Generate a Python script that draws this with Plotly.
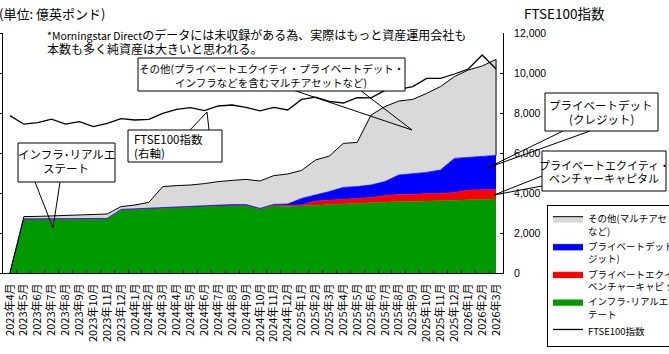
import plotly.graph_objects as go

months = ["2023年4月", "2023年5月", "2023年6月", "2023年7月", "2023年8月", "2023年9月",
          "2023年10月", "2023年11月", "2023年12月", "2024年1月", "2024年2月", "2024年3月",
          "2024年4月", "2024年5月", "2024年6月", "2024年7月", "2024年8月", "2024年9月",
          "2024年10月", "2024年11月", "2024年12月", "2025年1月", "2025年2月", "2025年3月",
          "2025年4月", "2025年5月", "2025年6月", "2025年7月", "2025年8月", "2025年9月",
          "2025年10月", "2025年11月", "2025年12月", "2026年1月", "2026年2月", "2026年3月"]

# 億英ポンド (left axis)
infra = [0, 268, 268, 269, 269, 270, 270, 270, 315, 318, 323, 327, 328, 332, 333, 335, 338, 338,
         320, 335, 332, 335, 340, 343, 347, 347, 350, 353, 357, 358, 360, 362, 363, 368, 370, 370]
pe = [0, 1, 1, 1, 1, 1, 1, 1, 1, 1, 1, 1, 1, 1, 1, 1, 1, 1,
      2, 5, 7, 6, 20, 22, 21, 25, 27, 34, 35, 34, 38, 36, 40, 47, 48, 48]
pdebt = [0, 2, 2, 2, 2, 2, 2, 2, 2, 2, 2, 2, 2, 2, 2, 3, 3, 3,
         1, 3, 6, 32, 30, 42, 60, 60, 63, 70, 98, 106, 105, 117, 170, 163, 164, 170]
other = [0, 11, 12, 13, 15, 17, 19, 22, 14, 19, 27, 102, 106, 105, 111, 118, 121, 126,
         137, 144, 150, 140, 175, 178, 220, 221, 350, 375, 370, 370, 395, 417, 409, 437, 453, 480]
# FTSE100 index (right axis)
ftse = [7870, 7440, 7520, 7690, 7440, 7570, 7320, 7480, 7720, 7650, 7680, 7980, 8180, 8270,
        8120, 8350, 8400, 8280, 8110, 8280, 8150, 8680, 8790, 8580, 8500, 8770, 8760, 9130,
        9180, 9320, 9730, 9730, 9950, 10200, 10900, 10200]

JP = "Noto Sans CJK JP"
L, R, T, B = 3, 503, 33, 273
FW, FH = 669, 354


def px(x):
    return (x - L) / (R - L)


def py(y):
    return (B - y) / (B - T)


fig = go.Figure()
fig.add_trace(go.Scatter(x=months, y=infra, stackgroup="s", mode="lines",
                         line=dict(color="#009900", width=0.5), fillcolor="#009900",
                         name="インフラ･リアルエス<br>テート", legendrank=4))
fig.add_trace(go.Scatter(x=months, y=pe, stackgroup="s", mode="lines",
                         line=dict(color="#ff0000", width=0.5), fillcolor="#ff0000",
                         name="プライベートエクイティ･<br>ベンチャーキャピ タル", legendrank=3))
fig.add_trace(go.Scatter(x=months, y=pdebt, stackgroup="s", mode="lines",
                         line=dict(color="#0000ff", width=0.8), fillcolor="#0000ff",
                         name="プライベートデット(クレ<br>ジット)", legendrank=2))
fig.add_trace(go.Scatter(x=months, y=other, stackgroup="s", mode="lines",
                         line=dict(color="black", width=1), fillcolor="#d9d9d9",
                         name="その他(マルチアセット<br>など)", legendrank=1))
below_last = infra[-1] + pe[-1] + pdebt[-1]
total_last = below_last + other[-1]
fig.add_trace(go.Scatter(x=[months[-1], months[-1]], y=[below_last, total_last], mode="lines",
                         line=dict(color="black", width=1), showlegend=False))
fig.add_trace(go.Scatter(x=months, y=ftse, yaxis="y2", mode="lines",
                         line=dict(color="black", width=1.3), name="FTSE100指数", legendrank=5))

shapes = []


def box(x0, y0, x1, y1):
    shapes.append(dict(type="rect", xref="paper", yref="paper", x0=px(x0), x1=px(x1),
                       y0=py(y1), y1=py(y0), fillcolor="white",
                       line=dict(color="black", width=1), layer="above"))


def pointer(a, tip, b):
    path = "M {} {} L {} {} L {} {}".format(px(a[0]), py(a[1]), px(tip[0]), py(tip[1]),
                                            px(b[0]), py(b[1]))
    shapes.append(dict(type="path", xref="paper", yref="paper", path=path,
                       line=dict(color="black", width=1), layer="above"))


pointer((293, 90), (412, 130), (360, 90))
box(138, 58, 405, 91)
pointer((190, 130), (207, 112), (209, 130))
box(128, 130, 222, 162)
pointer((35, 182), (53, 228), (60, 182))
box(18, 143, 115, 182)
pointer((563, 131), (487, 168), (590, 131))
box(545, 93, 658, 131)
pointer((542, 176), (494, 195), (542, 186))
box(542, 151, 666, 191)

ann = []


def text(t, x, y, size, anchor="left"):
    ann.append(dict(text=t, x=px(x), y=py(y), xref="paper", yref="paper", showarrow=False,
                    xanchor=anchor, yanchor="middle", font=dict(family=JP, size=size, color="black")))


text("(単位: 億英ポンド)", -3, 13, 13)
text("FTSE100指数", 522, 13, 13.5)
text("<span style='font-size:10.5px'>*Morningstar Direct</span>のデータには未収録がある為、実際はもっと資産運用会社も",
     45, 35, 12)
text("本数も多く純資産は大きいと思われる。", 45, 48, 12)
text("その他(プライベートエクイティ・プライベートデット・", 271, 68, 10.5, "center")
text("インフラなどを含むマルチアセットなど)", 271, 82, 10.5, "center")
text("FTSE100指数", 132, 139, 11.5)
text("(右軸)", 132, 153, 11.5)
text("インフラ･リアルエ", 66, 154, 11.5, "center")
text("ステート", 66, 168, 11.5, "center")
text("プライベートデット", 601, 105, 11.5, "center")
text("(クレジット)", 601, 119, 11.5, "center")
text("プライベートエクイティ・", 604, 165, 11, "center")
text("ベンチャーキャピタル", 604, 178, 11, "center")

fig.update_layout(
    width=FW, height=FH,
    margin=dict(l=L, r=FW - R, t=T, b=FH - B, autoexpand=False),
    paper_bgcolor="white", plot_bgcolor="white",
    font=dict(family=JP, size=11, color="black"),
    showlegend=True,
    legend=dict(x=px(547), y=py(205), xanchor="left", yanchor="top", xref="paper", yref="paper",
                bordercolor="black", borderwidth=1, bgcolor="white", traceorder="normal",
                font=dict(family=JP, size=9.5, color="black"), valign="top", tracegroupgap=0),
    xaxis=dict(type="category", range=[-0.5, 35.5], showline=True, linecolor="black", linewidth=1,
               ticks="inside", ticklen=3, tickcolor="black", tickson="boundaries",
               tickangle=-90, tickfont=dict(family=JP, size=11), showgrid=False, zeroline=False,
               ticklabelstandoff=5, nticks=40),
    yaxis=dict(range=[0, 1200], dtick=200, showline=True, linecolor="black", linewidth=1,
               ticks="outside", ticklen=3, tickcolor="black", showticklabels=False,
               showgrid=False, zeroline=False),
    yaxis2=dict(range=[0, 12000], dtick=2000, overlaying="y", side="right", showline=True,
                linecolor="black", linewidth=1, ticks="inside", ticklen=3, tickcolor="black",
                tickformat=",d", tickfont=dict(family="Liberation Sans", size=10.5),
                showgrid=False, zeroline=False, ticklabelstandoff=8),
    shapes=shapes, annotations=ann,
)

fig.write_html("out.html")
